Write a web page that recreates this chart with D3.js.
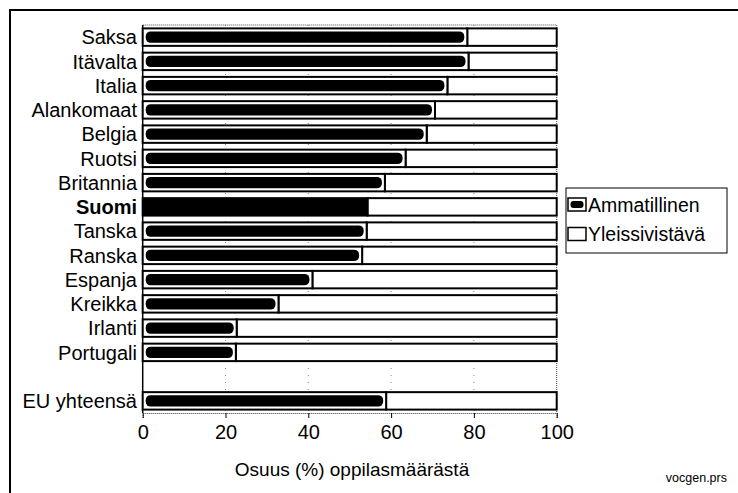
<!DOCTYPE html>
<html>
<head>
<meta charset="utf-8">
<script src="https://cdn.jsdelivr.net/npm/d3@7"></script>
<style>
    body { margin: 0; background: #fff; }
    text { font-family: 'Liberation Sans', Arial, sans-serif; fill: #000; }
</style>
</head>
<body>
<svg id="chart" width="738" height="493"></svg>
<script>
// maat ja osuudet (%) luettu kuvasta
let maat = ['Saksa', 'Itävalta', 'Italia', 'Alankomaat', 'Belgia', 'Ruotsi', 'Britannia',
    'Suomi', 'Tanska', 'Ranska', 'Espanja', 'Kreikka', 'Irlanti', 'Portugali', 'EU yhteensä'];
let ammatillinen = [78.4, 78.7, 73.6, 70.6, 68.6, 63.5, 58.5, 54.3, 54.1, 53, 41, 32.8, 22.7, 22.5, 58.8];
let yleissivistava = [21.6, 21.3, 26.4, 29.4, 31.4, 36.5, 41.5, 45.7, 45.9, 47, 59, 67.2, 77.3, 77.5, 41.2];
let sarjat = ['Ammatillinen', 'Yleissivistävä'];
let xTicks = [0, 20, 40, 60, 80, 100];
let akseliOtsikko = 'Osuus (%) oppilasmäärästä';
let lahde = 'vocgen.prs';

let svg = d3.select('#chart');

// ulkokehys
svg.append('path')
    .attr('d', 'M10,493 V10 H738')
    .attr('fill', 'none')
    .attr('stroke', '#000')
    .attr('stroke-width', 2);

// skaalat
let x = d3.scaleLinear()
    .domain([0, 100])
    .range([142.7, 556.7]);
// tyhjä rivi ennen EU-riviä
let rivit = maat.slice(0, -1).concat([' ', maat[maat.length - 1]]);
let y = d3.scaleBand()
    .domain(rivit)
    .range([25, 413])
    .paddingInner(0.28)
    .paddingOuter(0.14);

let rows = maat.map((m, i) => ({maa: m, 'Ammatillinen': ammatillinen[i], 'Yleissivistävä': yleissivistava[i]}));
let stacked = d3.stack().keys(sarjat)(rows);

// apuviivat
svg.append('g')
    .selectAll('line')
    .data(xTicks.slice(1, -1))
    .enter()
    .append('line')
    .attr('x1', d => x(d)).attr('x2', d => x(d))
    .attr('y1', 25).attr('y2', 413)
    .attr('stroke', '#888')
    .attr('stroke-width', 1)
    .attr('stroke-dasharray', '1,6');

// kuvaalan reunat
svg.append('line')
    .attr('x1', x(0)).attr('x2', x(100)).attr('y1', 25).attr('y2', 25)
    .attr('stroke', '#444').attr('stroke-dasharray', '1,1');
svg.append('line')
    .attr('x1', x(100)).attr('x2', x(100)).attr('y1', 25).attr('y2', 413)
    .attr('stroke', '#444').attr('stroke-dasharray', '1,1');

// x-akseli
let xAxis = svg.append('g')
    .attr('transform', 'translate(0,413)')
    .call(d3.axisBottom(x).tickValues(xTicks).tickSize(5).tickPadding(7));
xAxis.select('.domain').attr('stroke', '#333').attr('stroke-dasharray', '1,1');
xAxis.selectAll('.tick line').attr('stroke', '#000');
xAxis.selectAll('.tick text')
    .style('font-family', "'Liberation Sans Narrow', 'Liberation Sans', sans-serif")
    .attr('font-size', 20)
    .attr('fill', '#000');

// y-akselin viiva
svg.append('line')
    .attr('x1', x(0)).attr('x2', x(0)).attr('y1', 25).attr('y2', 413)
    .attr('stroke', '#000').attr('stroke-width', 1.5);

// yleissivistävä (valkoinen)
svg.append('g')
    .selectAll('rect')
    .data(stacked[1])
    .enter()
    .append('rect')
    .attr('x', d => x(d[0]))
    .attr('y', d => y(d.data.maa))
    .attr('width', d => x(d[1]) - x(d[0]))
    .attr('height', y.bandwidth())
    .attr('fill', '#fff')
    .attr('stroke', '#000')
    .attr('stroke-width', 2);

// ammatillinen: kehys + musta täyttö
let gAm = svg.append('g');
gAm.selectAll('rect.box')
    .data(stacked[0])
    .enter()
    .append('rect')
    .attr('class', 'box')
    .attr('x', d => x(d[0]))
    .attr('y', d => y(d.data.maa))
    .attr('width', d => x(d[1]) - x(d[0]))
    .attr('height', y.bandwidth())
    .attr('fill', d => d.data.maa === 'Suomi' ? '#000' : '#fff')
    .attr('stroke', '#000')
    .attr('stroke-width', 2);
gAm.selectAll('rect.fill')
    .data(stacked[0].filter(d => d.data.maa !== 'Suomi'))
    .enter()
    .append('rect')
    .attr('class', 'fill')
    .attr('x', d => x(d[0]) + 3)
    .attr('y', d => y(d.data.maa) + 3)
    .attr('width', d => x(d[1]) - x(d[0]) - 6)
    .attr('height', y.bandwidth() - 6)
    .attr('rx', 5)
    .attr('fill', '#000');

// maiden nimet
svg.append('g')
    .selectAll('text')
    .data(maat)
    .enter()
    .append('text')
    .attr('x', 137)
    .attr('y', d => y(d) + y.bandwidth() / 2)
    .attr('dy', '0.36em')
    .attr('text-anchor', 'end')
    .attr('font-size', 20)
    .attr('font-weight', d => d === 'Suomi' ? 'bold' : null)
    .text(d => d);

// akselin otsikko
svg.append('text')
    .attr('x', 352)
    .attr('y', 476)
    .attr('text-anchor', 'middle')
    .attr('font-size', 19)
    .text(akseliOtsikko);

// lähde
svg.append('text')
    .attr('x', 727)
    .attr('y', 482)
    .attr('text-anchor', 'end')
    .attr('font-size', 12.5)
    .text(lahde);

// selite
let legend = svg.append('g');
legend.append('rect')
    .attr('x', 566).attr('y', 188)
    .attr('width', 161).attr('height', 65)
    .attr('fill', '#fff')
    .attr('stroke', '#000')
    .attr('stroke-width', 1);
let item = legend.selectAll('g.item')
    .data(sarjat)
    .enter()
    .append('g')
    .attr('class', 'item')
    .attr('transform', (d, i) => 'translate(568,' + (198 + i * 29.5) + ')');
item.append('rect')
    .attr('width', 18).attr('height', 13)
    .attr('fill', '#fff')
    .attr('stroke', '#000')
    .attr('stroke-width', 1.5);
item.filter((d, i) => i === 0)
    .append('rect')
    .attr('x', 2.5).attr('y', 3)
    .attr('width', 13).attr('height', 7)
    .attr('rx', 3)
    .attr('fill', '#000');
item.append('text')
    .attr('x', 20)
    .attr('y', 6.5)
    .attr('dy', '0.36em')
    .attr('font-size', 19.5)
    .text(d => d);
</script>
</body>
</html>
